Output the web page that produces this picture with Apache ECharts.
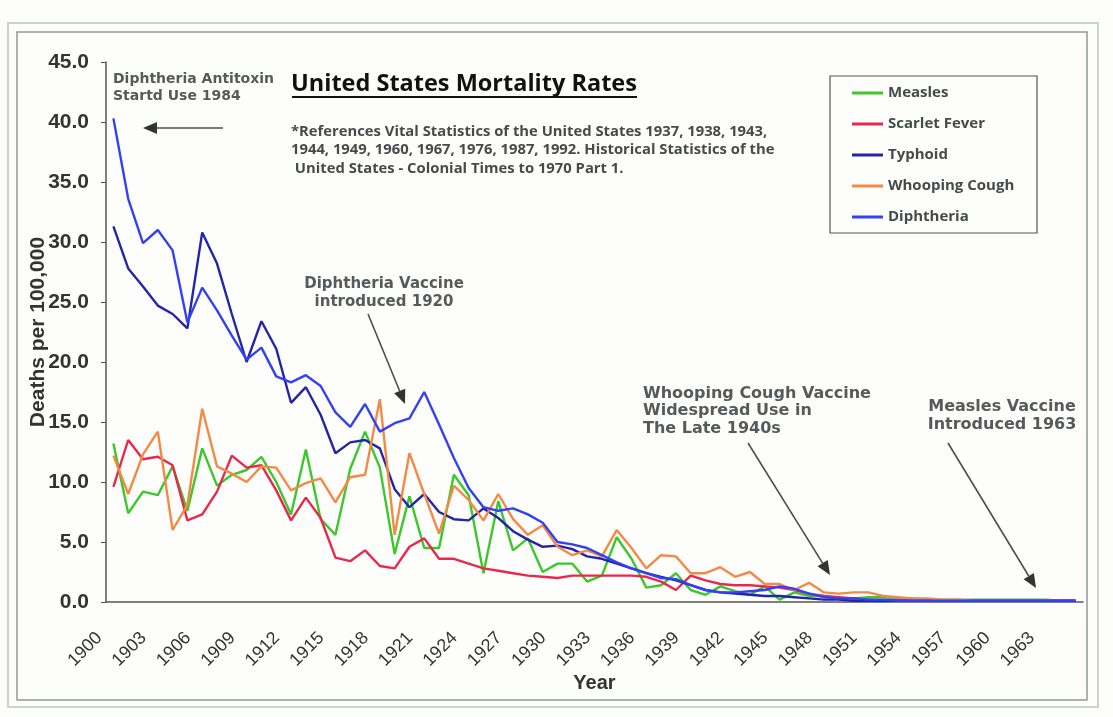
<!DOCTYPE html>
<html>
<head>
<meta charset="utf-8">
<script src="https://cdn.jsdelivr.net/npm/echarts@6/dist/echarts.min.js"></script>
<style>
  html, body { margin: 0; padding: 0; background: #fdfefb; }
  #main { width: 1113px; height: 717px; }
</style>
</head>
<body>
<div id="main"></div>
<script>
// years on the category axis
let years = [];
for (let y = 1900; y <= 1965; y++) years.push(String(y));

// deaths per 100,000 (1900 .. 1965)
let measles = [13.2, 7.4, 9.2, 8.9, 11.3, 7.6, 12.8, 9.7, 10.6, 11.0,
    12.1, 10.0, 7.3, 12.7, 6.9, 5.6, 11.1, 14.2, 11.2, 4.0,
    8.8, 4.5, 4.5, 10.6, 8.9, 2.4, 8.4, 4.3, 5.3, 2.5,
    3.2, 3.2, 1.7, 2.2, 5.4, 3.6, 1.2, 1.4, 2.4, 1.0,
    0.6, 1.3, 0.9, 0.6, 1.3, 0.2, 0.8, 0.5, 0.5, 0.3,
    0.3, 0.4, 0.4, 0.3, 0.3, 0.2, 0.2, 0.2, 0.2, 0.2,
    0.2, 0.2, 0.2, 0.2, 0.1, null];
let scarletFever = [9.6, 13.5, 11.9, 12.1, 11.4, 6.8, 7.3, 9.2, 12.2, 11.2,
    11.4, 9.3, 6.8, 8.7, 7.0, 3.7, 3.4, 4.3, 3.0, 2.8,
    4.6, 5.3, 3.6, 3.6, 3.2, 2.8, 2.6, 2.4, 2.2, 2.1,
    2.0, 2.2, 2.2, 2.2, 2.2, 2.2, 2.1, 1.7, 1.0, 2.2,
    1.8, 1.5, 1.4, 1.4, 1.3, 1.2, 1.0, 0.7, 0.5, 0.4,
    0.3, 0.2, 0.1, 0.1, 0.1, 0.1, 0.1, 0.1, 0.1, 0.1,
    0.1, 0.1, 0.1, 0.1, 0.1, 0.1];
let typhoid = [31.3, 27.8, 26.3, 24.7, 24.0, 22.8, 30.8, 28.2, 24.0, 20.0,
    23.4, 21.1, 16.6, 17.9, 15.6, 12.4, 13.3, 13.5, 12.8, 9.4,
    7.9, 9.0, 7.5, 6.9, 6.8, 7.8, 7.0, 5.9, 5.2, 4.6,
    4.7, 4.4, 3.8, 3.6, 3.2, 2.8, 2.4, 2.1, 1.8, 1.4,
    1.0, 0.8, 0.7, 0.6, 0.5, 0.5, 0.4, 0.3, 0.2, 0.2,
    0.1, 0.1, 0.1, 0.1, 0.1, 0.1, 0.1, 0.1, 0.1, 0.1,
    0.1, 0.1, 0.1, 0.1, 0.1, 0.1];
let whoopingCough = [12.2, 9.0, 12.3, 14.2, 6.0, 8.1, 16.1, 11.3, 10.7, 10.0,
    11.3, 11.2, 9.3, 9.9, 10.3, 8.3, 10.4, 10.6, 16.9, 5.6,
    12.4, 9.0, 5.7, 9.7, 8.5, 6.8, 9.0, 6.9, 5.6, 6.4,
    4.6, 3.9, 4.3, 3.8, 6.0, 4.5, 2.8, 3.9, 3.8, 2.4,
    2.4, 2.9, 2.1, 2.5, 1.5, 1.5, 1.0, 1.6, 0.8, 0.7,
    0.8, 0.8, 0.5, 0.4, 0.3, 0.3, 0.2, 0.2, 0.1, 0.1,
    0.1, 0.1, 0.1, 0.1, 0.1, null];
let diphtheria = [40.3, 33.6, 29.9, 31.0, 29.3, 23.3, 26.2, 24.3, 22.2, 20.2,
    21.2, 18.8, 18.3, 18.9, 18.0, 15.8, 14.6, 16.5, 14.2, 14.9,
    15.3, 17.5, 14.8, 12.0, 9.5, 7.9, 7.6, 7.8, 7.3, 6.6,
    5.0, 4.8, 4.5, 3.9, 3.3, 2.8, 2.4, 2.0, 1.9, 1.4,
    1.0, 0.8, 0.8, 0.9, 1.0, 1.3, 1.1, 0.7, 0.4, 0.3,
    0.3, 0.2, 0.2, 0.1, 0.1, 0.1, 0.1, 0.1, 0.1, 0.1,
    0.1, 0.1, 0.1, 0.1, 0.1, 0.1];

let names = ['Measles', 'Scarlet Fever', 'Typhoid', 'Whooping Cough', 'Diphtheria'];
let colors = ['#3cc82c', '#e8284e', '#2424a8', '#f28a45', '#3340f5'];
let values = [measles, scarletFever, typhoid, whoopingCough, diphtheria];

// arrow = shaft + head, drawn as annotation
function arrow(x1, y1, x2, y2){
    let a = Math.atan2(y2 - y1, x2 - x1);
    let L = 14, W = 6;
    let bx = x2 - L * Math.cos(a), by = y2 - L * Math.sin(a);
    return [
        {type: 'line', shape: {x1: x1, y1: y1, x2: bx, y2: by},
         style: {stroke: '#4a4f4f', lineWidth: 1.6}},
        {type: 'polygon', shape: {points: [[x2, y2],
            [bx + W * Math.sin(a), by - W * Math.cos(a)],
            [bx - W * Math.sin(a), by + W * Math.cos(a)]]},
         style: {fill: '#2f3434'}}
    ];
}

function note(x, y, text, size, lh, align){
    return {type: 'text', x: x, y: y, style: {
        text: text, fill: '#555a5a', font: 'bold ' + size + 'px "DejaVu Sans"',
        lineHeight: lh, align: align || 'left', verticalAlign: 'middle'}};
}

let series = [];
for (let i = 0; i < names.length; i++){
    series.push({
        type: 'line',
        name: names[i],
        data: values[i],
        symbol: 'none',
        itemStyle: {color: colors[i]},
        lineStyle: {color: colors[i], width: 2.4}
    });
}

let graphics = [
    {type: 'rect', shape: {x: 8, y: 23, width: 1090, height: 684},
     style: {fill: null, stroke: '#c9d3cf', lineWidth: 2}},
    {type: 'rect', shape: {x: 17, y: 32, width: 1070, height: 668},
     style: {fill: null, stroke: '#8e9a96', lineWidth: 1.5}},
    {type: 'rect', shape: {x: 830, y: 76, width: 207, height: 157},
     style: {fill: '#fdfefb', stroke: '#555', lineWidth: 1.2}},
    {type: 'line', shape: {x1: 292, y1: 97, x2: 637, y2: 97},
     style: {stroke: '#111', lineWidth: 2}},
    {type: 'text', x: 291, y: 150, style: {
        text: '*References Vital Statistics of the United States 1937, 1938, 1943,\n1944, 1949, 1960, 1967, 1976, 1987, 1992. Historical Statistics of the\n United States - Colonial Times to 1970 Part 1.',
        fill: '#454a4a', font: 'bold 14.8px "Open Sans"', lineHeight: 18.5, verticalAlign: 'middle'}},
    note(113, 88, 'Diphtheria Antitoxin\nStartd Use 1984', 14, 17),
    note(384, 293, 'Diphtheria Vaccine\nintroduced 1920', 15, 18, 'center'),
    note(643, 411, 'Whooping Cough Vaccine\nWidespread Use in\nThe Late 1940s', 16, 17.5),
    note(1002, 416, 'Measles Vaccine\nIntroduced 1963', 16, 17.5, 'center')
];
graphics = graphics.concat(arrow(223, 128, 143, 128));
graphics = graphics.concat(arrow(368, 314, 405, 404));
graphics = graphics.concat(arrow(748, 443, 830, 575));
graphics = graphics.concat(arrow(948, 443, 1036, 588));

let option = {
    backgroundColor: '#fdfefb',
    animation: false,
    title: {
        text: 'United States Mortality Rates',
        left: 291, top: 72, padding: 0,
        textStyle: {fontFamily: 'Open Sans', fontWeight: 'bold', fontSize: 23.5, color: '#111', lineHeight: 25}
    },
    legend: {
        data: names,
        orient: 'vertical',
        left: 847, top: 80,
        icon: 'rect',
        itemWidth: 31, itemHeight: 3,
        itemGap: 15, itemTextGap: 20,
        textStyle: {fontFamily: 'Open Sans', fontWeight: 'bold', fontSize: 15, color: '#454a4a', lineHeight: 16}
    },
    grid: {left: 106, right: 30, top: 62, bottom: 115, containLabel: false},
    xAxis: {
        type: 'category',
        data: years,
        boundaryGap: true,
        name: 'Year',
        nameLocation: 'middle',
        nameGap: 71,
        nameMoveOverlap: false,
        nameTextStyle: {fontFamily: 'Liberation Sans', fontWeight: 'bold', fontSize: 20, color: '#333'},
        axisLine: {lineStyle: {color: '#555', width: 1.5}},
        axisTick: {interval: 0, length: 5, lineStyle: {color: '#555'}},
        axisLabel: {interval: 2, rotate: 45, margin: 19, padding: [0, 20, 0, 0],
            fontFamily: 'Liberation Sans', fontSize: 18, color: '#333'}
    },
    yAxis: {
        type: 'value',
        min: 0, max: 45, interval: 5,
        name: 'Deaths per 100,000',
        nameLocation: 'middle',
        nameGap: 57,
        nameMoveOverlap: false,
        nameTextStyle: {fontFamily: 'Liberation Sans', fontWeight: 'bold', fontSize: 21, color: '#333'},
        axisLine: {show: true, lineStyle: {color: '#555', width: 1.5}},
        axisTick: {show: true, length: 5, lineStyle: {color: '#555'}},
        splitLine: {show: false},
        axisLabel: {margin: 17, fontFamily: 'Liberation Sans', fontWeight: 'bold', fontSize: 21, color: '#333',
            formatter: function(v){ return v.toFixed(1); }}
    },
    graphic: graphics,
    series: series
};

let chart = echarts.init(document.getElementById('main'));
chart.setOption(option);
</script>
</body>
</html>
